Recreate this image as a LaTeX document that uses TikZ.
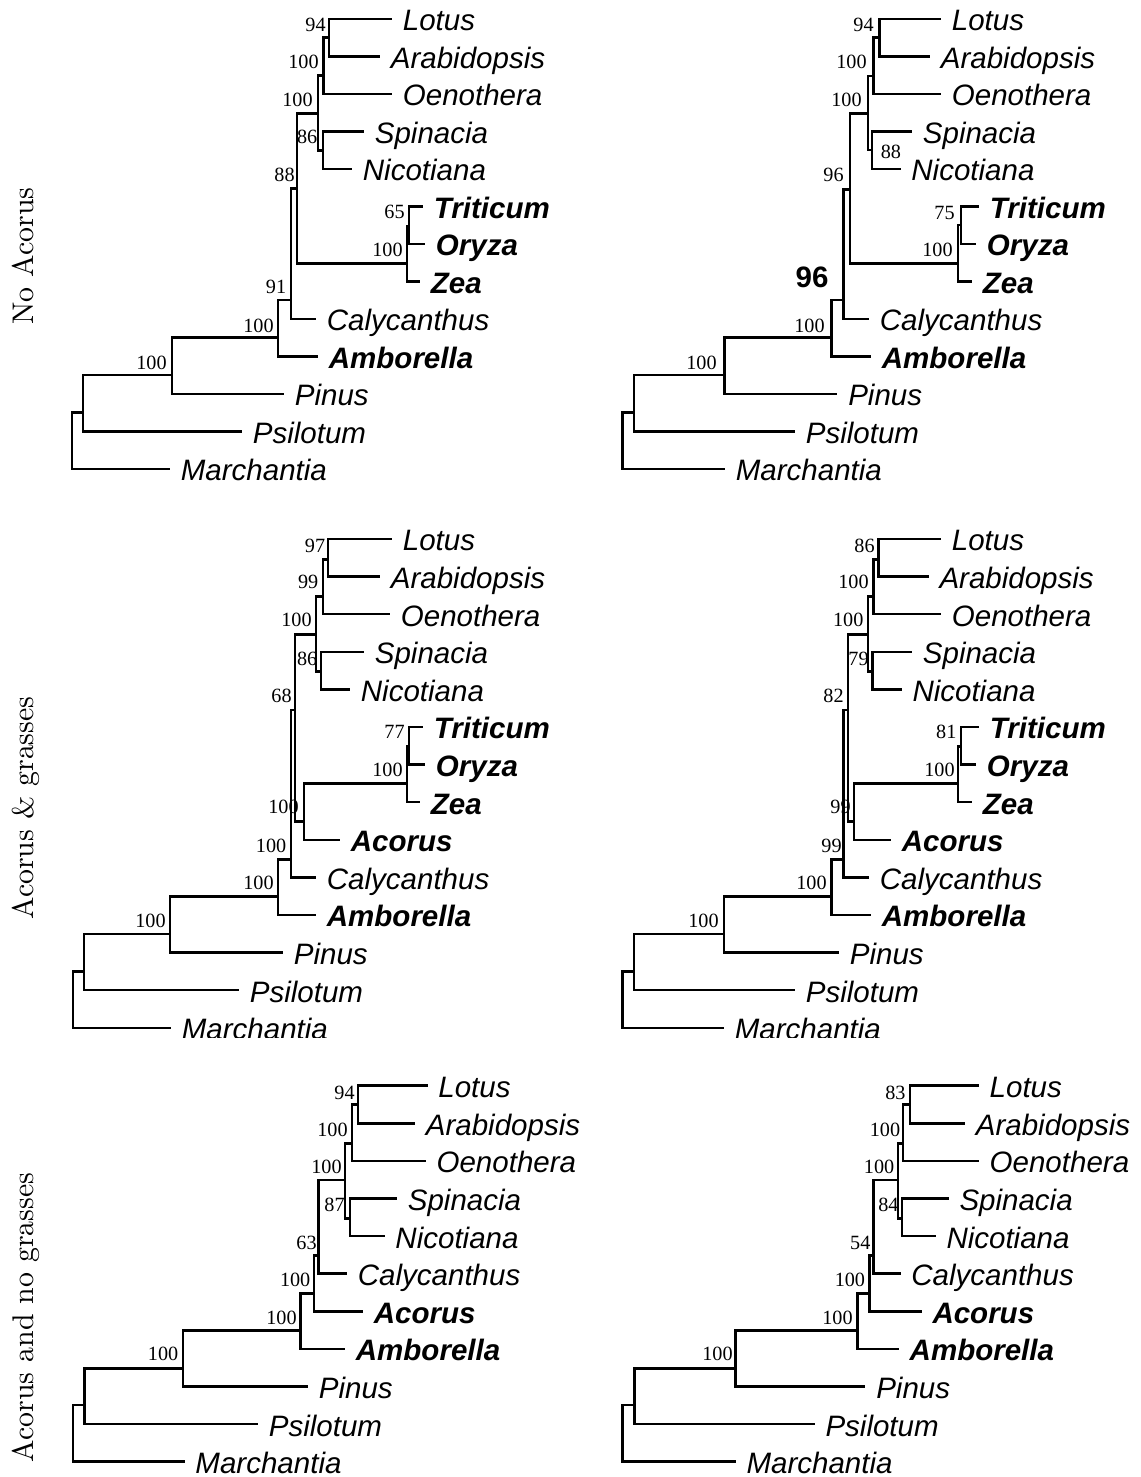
\documentclass[tikz,border=0pt]{standalone}
\usepackage{fontspec}
\setsansfont{Liberation Sans}
\newfontfamily\bootfont{Liberation Serif}
\newfontfamily\rowfont{lmroman10-regular}[Extension=.otf]

\tikzset{
    branch/.style={line width=1.4pt},
    taxon/.style={anchor=west, inner xsep=6pt, inner ysep=0pt, text height=15pt, text depth=1.4pt,
        font=\fontsize{16.8}{18}\selectfont\sffamily\itshape},
    taxonb/.style={taxon, font=\fontsize{16.8}{18}\selectfont\sffamily\bfseries\itshape},
    boot/.style={anchor=east, inner sep=0pt, font=\fontsize{11.5}{12}\selectfont\bootfont},
    rowlabel/.style={rotate=90, anchor=base, inner sep=0pt, font=\fontsize{17}{20}\selectfont\rowfont}
}

\begin{document}
\begin{tikzpicture}[x=0.02cm, y=-0.02cm]
        \useasboundingbox (0,0) rectangle (1140,1477);

        % Row labels
        \node[rowlabel] (row1) at (33,256) {No Acorus};
        \node[rowlabel] (row2) at (33,808) {Acorus \& grasses};
        \node[rowlabel] (row3) at (33,1317.5) {Acorus and no grasses};

        % Tree 1: no Acorus, left
        \foreach \n/\x/\y in {la/329/37.7, lao/323.5/75.3, sn/323/150.3, eud/318/113.3, to/409/226.7, gr/407/263.3,
            n88/297/188.3, n91/291/300, n100/278/337.3, sp/172/375, vasc/83/412.3, root/72/440}
            \coordinate (t1-\n) at (\x,\y);
        \foreach \n/\x/\y/\s/\t in {lotus/392/19/taxon/Lotus, arab/380/56.5/taxon/Arabidopsis, oeno/392/94/taxon/Oenothera,
            spin/364/131.5/taxon/Spinacia, nico/352/169/taxon/Nicotiana, trit/423/206.5/taxonb/Triticum,
            oryz/425/244/taxonb/Oryza, zea/420/281.5/taxonb/Zea, caly/316/319/taxon/Calycanthus,
            ambo/318/356.5/taxonb/Amborella, pinus/284/394/taxon/Pinus, psil/242/431.5/taxon/Psilotum,
            march/170/469/taxon/Marchantia}
            \node[\s] (t1-\n) at (\x,\y) {\t};
        \foreach \p/\c in {la/lotus, la/arab, lao/la, lao/oeno, sn/spin, sn/nico, eud/lao, eud/sn, to/trit, to/oryz,
            gr/to, gr/zea, n88/eud, n88/gr, n91/n88, n91/caly, n100/n91, n100/ambo, sp/n100, sp/pinus,
            vasc/sp, vasc/psil, root/vasc, root/march}
            \draw[branch] (t1-\p) |- (t1-\c);
        \foreach \i/\x/\y/\v in {1/326/25/94, 2/319/62/100, 3/313/100/100, 4/317.6/137/86, 5/295/175/88,
            6/405/212/65, 7/403/250/100, 8/286.5/287/91, 9/274/326/100, 10/167/363/100}
            \node[boot] (t1-b\i) at (\x,\y) {\v};

        % Tree 2: no Acorus, right
        \foreach \n/\x/\y in {la/879.5/37.7, lao/873.5/76, sn/872/150, eud/868/113.3, to/961/225, gr/958/263.3,
            n96/850/189.3, nb96/843.7/300, n100/831.4/337.3, sp/724.4/375, vasc/634/412.3, root/622.6/440}
            \coordinate (t2-\n) at (\x,\y);
        \foreach \n/\x/\y/\s/\t in {lotus/941/19/taxon/Lotus, arab/930/56.5/taxon/Arabidopsis, oeno/941/94/taxon/Oenothera,
            spin/912/131.5/taxon/Spinacia, nico/900.5/169/taxon/Nicotiana, trit/979/206.5/taxonb/Triticum,
            oryz/976/244/taxonb/Oryza, zea/972/281.5/taxonb/Zea, caly/869/319/taxon/Calycanthus,
            ambo/871/356.5/taxonb/Amborella, pinus/837.4/394/taxon/Pinus, psil/795/431.5/taxon/Psilotum,
            march/725/469/taxon/Marchantia}
            \node[\s] (t2-\n) at (\x,\y) {\t};
        \foreach \p/\c in {la/lotus, la/arab, lao/la, lao/oeno, sn/spin, sn/nico, eud/lao, eud/sn, to/trit, to/oryz,
            gr/to, gr/zea, n96/eud, n96/gr, nb96/n96, nb96/caly, n100/nb96, n100/ambo, sp/n100, sp/pinus,
            vasc/sp, vasc/psil, root/vasc, root/march}
            \draw[branch] (t2-\p) |- (t2-\c);
        \foreach \i/\x/\y/\v in {1/874/25/94, 2/867/62/100, 3/862/100/100, 5/844/175/96,
            6/955/213/75, 7/953/250/100, 9/825/326/100, 10/717/363/100}
            \node[boot] (t2-b\i) at (\x,\y) {\v};
        \node[boot, anchor=west] (t2-b4) at (880.5,152) {88};
        \node[inner sep=0pt, font=\fontsize{16.8}{18}\selectfont\sffamily\bfseries] (t2-b8) at (812,277) {96};

        % Row 2: Acorus and grasses (cut at the bottom)
        \begin{scope}
        \clip (0,500) rectangle (1140,1037);

        % Tree 3
        \foreach \n/\x/\y in {la/328/559.3, lao/323/596.7, sn/321/671.7, eud/316/634.3, to/409/746.7, gr/407/783.3,
            mono/304/821.7, n68/295/710, ncal/291/859.3, n100/278/896.7, sp/170/934, vasc/84/971.7, root/73/1000}
            \coordinate (t3-\n) at (\x,\y);
        \foreach \n/\x/\y/\s/\t in {lotus/392/539/taxon/Lotus, arab/380/576.6/taxon/Arabidopsis, oeno/390/614.2/taxon/Oenothera,
            spin/364/651.8/taxon/Spinacia, nico/350/689.4/taxon/Nicotiana, trit/423/727/taxonb/Triticum,
            oryz/425/764.6/taxonb/Oryza, zea/420/802.2/taxonb/Zea, acor/340/839.8/taxonb/Acorus,
            caly/316/877.4/taxon/Calycanthus, ambo/316/915/taxonb/Amborella, pinus/283/952.6/taxon/Pinus,
            psil/239/990.2/taxon/Psilotum, march/171/1027.8/taxon/Marchantia}
            \node[\s] (t3-\n) at (\x,\y) {\t};
        \foreach \p/\c in {la/lotus, la/arab, lao/la, lao/oeno, sn/spin, sn/nico, eud/lao, eud/sn, to/trit, to/oryz,
            gr/to, gr/zea, mono/gr, mono/acor, n68/eud, n68/mono, ncal/n68, ncal/caly, n100/ncal, n100/ambo,
            sp/n100, sp/pinus, vasc/sp, vasc/psil, root/vasc, root/march}
            \draw[branch] (t3-\p) |- (t3-\c);
        \foreach \i/\x/\y/\v in {1/325.5/546/97, 2/318.6/582/99, 3/312/620/100, 4/317.6/659/86, 5/292/696/68,
            6/405/732/77, 7/403/770/100, 8/299/807/100, 9/286.6/846/100, 10/274/883/100, 11/166/921/100}
            \node[boot] (t3-b\i) at (\x,\y) {\v};

        % Tree 4
        \foreach \n/\x/\y in {la/878.4/559.3, lao/873.5/596.7, sn/872.5/671.7, eud/868/634.3, to/961/746.7, gr/958/783.3,
            mono/854/821.7, n82/848/710, n99/843.7/859.3, n100/831.4/896.7, sp/724/934, vasc/634/971.7, root/622.6/1000}
            \coordinate (t4-\n) at (\x,\y);
        \foreach \n/\x/\y/\s/\t in {lotus/941/539/taxon/Lotus, arab/928.6/576.6/taxon/Arabidopsis, oeno/941/614.2/taxon/Oenothera,
            spin/912/651.8/taxon/Spinacia, nico/901.6/689.4/taxon/Nicotiana, trit/979/727/taxonb/Triticum,
            oryz/976/764.6/taxonb/Oryza, zea/972/802.2/taxonb/Zea, acor/891/839.8/taxonb/Acorus,
            caly/869/877.4/taxon/Calycanthus, ambo/871/915/taxonb/Amborella, pinus/839/952.6/taxon/Pinus,
            psil/795/990.2/taxon/Psilotum, march/724/1027.8/taxon/Marchantia}
            \node[\s] (t4-\n) at (\x,\y) {\t};
        \foreach \p/\c in {la/lotus, la/arab, lao/la, lao/oeno, sn/spin, sn/nico, eud/lao, eud/sn, to/trit, to/oryz,
            gr/to, gr/zea, mono/gr, mono/acor, n82/eud, n82/mono, n99/n82, n99/caly, n100/n99, n100/ambo,
            sp/n100, sp/pinus, vasc/sp, vasc/psil, root/vasc, root/march}
            \draw[branch] (t4-\p) |- (t4-\c);
        \foreach \i/\x/\y/\v in {1/875/546/86, 2/869/582/100, 3/863.7/620/100, 4/869/659/79, 5/844/696/82,
            6/956.7/732/81, 7/955/770/100, 8/851/807/99, 9/842/846/99, 10/827/883/100, 11/719/921/100}
            \node[boot] (t4-b\i) at (\x,\y) {\v};
        \end{scope}

        % Tree 5: Acorus and no grasses, left
        \foreach \n/\x/\y in {la/358/1104.3, lao/352/1143.3, sn/350/1218.3, eud/345/1180, n63/318.6/1255.7,
            nac/314/1293.3, n100/300.7/1330.7, sp/183/1368.3, vasc/84.6/1405, root/73/1433}
            \coordinate (t5-\n) at (\x,\y);
        \foreach \n/\x/\y/\s/\t in {lotus/427.5/1085.7/taxon/Lotus, arab/415/1123.3/taxon/Arabidopsis,
            oeno/425.7/1160.9/taxon/Oenothera, spin/397/1198.5/taxon/Spinacia, nico/384.6/1236.1/taxon/Nicotiana,
            caly/347/1273.7/taxon/Calycanthus, acor/363/1311.3/taxonb/Acorus, ambo/345/1348.9/taxonb/Amborella,
            pinus/308/1386.5/taxon/Pinus, psil/258/1424.1/taxon/Psilotum, march/184.6/1461.7/taxon/Marchantia}
            \node[\s] (t5-\n) at (\x,\y) {\t};
        \foreach \p/\c in {la/lotus, la/arab, lao/la, lao/oeno, sn/spin, sn/nico, eud/lao, eud/sn, n63/eud, n63/caly,
            nac/n63, nac/acor, n100/nac, n100/ambo, sp/n100, sp/pinus, vasc/sp, vasc/psil, root/vasc, root/march}
            \draw[branch] (t5-\p) |- (t5-\c);
        \foreach \i/\x/\y/\v in {1/355/1092.5/94, 2/348/1130/100, 3/342/1167/100, 4/345/1205/87, 5/317/1243/63,
            6/310.7/1280/100, 7/297/1317.5/100, 8/178.6/1354/100}
            \node[boot] (t5-b\i) at (\x,\y) {\v};

        % Tree 6: Acorus and no grasses, right
        \foreach \n/\x/\y in {la/910/1104.3, lao/903/1143.3, sn/902/1218.3, eud/898/1180, n54/873.5/1255.7,
            nac/869.6/1293.3, n100/857.7/1330.7, sp/735.6/1368.3, vasc/634.6/1405, root/622.6/1433}
            \coordinate (t6-\n) at (\x,\y);
        \foreach \n/\x/\y/\s/\t in {lotus/978.8/1085.7/taxon/Lotus, arab/965/1123.3/taxon/Arabidopsis,
            oeno/978.8/1160.9/taxon/Oenothera, spin/948.6/1198.5/taxon/Spinacia, nico/935.6/1236.1/taxon/Nicotiana,
            caly/900.5/1273.7/taxon/Calycanthus, acor/921.6/1311.3/taxonb/Acorus, ambo/898.8/1348.9/taxonb/Amborella,
            pinus/865.4/1386.5/taxon/Pinus, psil/814.6/1424.1/taxon/Psilotum, march/735.6/1461.7/taxon/Marchantia}
            \node[\s] (t6-\n) at (\x,\y) {\t};
        \foreach \p/\c in {la/lotus, la/arab, lao/la, lao/oeno, sn/spin, sn/nico, eud/lao, eud/sn, n54/eud, n54/caly,
            nac/n54, nac/acor, n100/nac, n100/ambo, sp/n100, sp/pinus, vasc/sp, vasc/psil, root/vasc, root/march}
            \draw[branch] (t6-\p) |- (t6-\c);
        \foreach \i/\x/\y/\v in {1/905.8/1092.5/83, 2/900.5/1130/100, 3/894.6/1167/100, 4/898.8/1205/84, 5/870.7/1243/54,
            6/865.4/1280/100, 7/853/1317.5/100, 8/733/1354/100}
            \node[boot] (t6-b\i) at (\x,\y) {\v};
\end{tikzpicture}
\end{document}
